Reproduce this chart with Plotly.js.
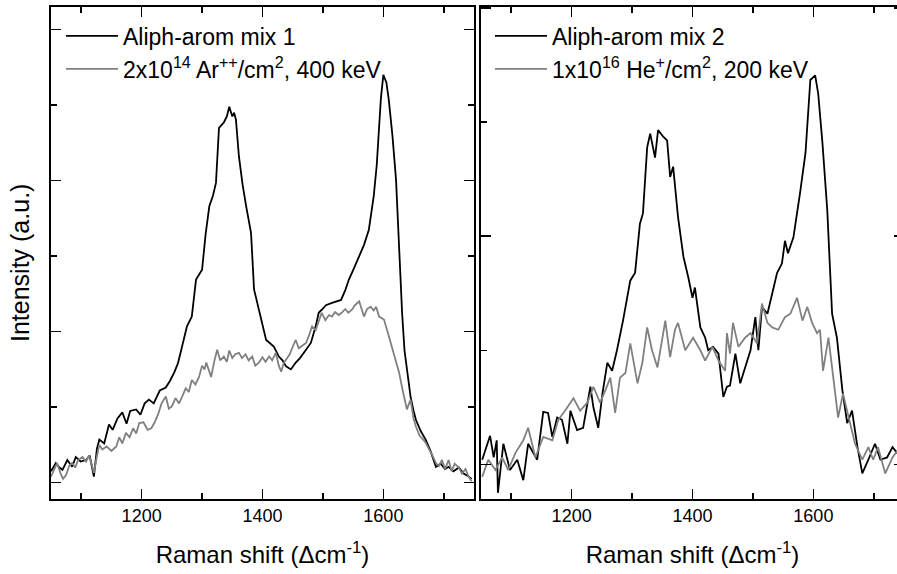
<!DOCTYPE html>
<html><head><meta charset="utf-8">
<script src="https://cdn.plot.ly/plotly-3.0.1.min.js"></script>
<style>html,body{margin:0;padding:0;overflow:hidden;background:#fff;width:897px;height:574px}</style>
</head><body><div id="chart" style="width:910px;height:574px"></div>
<script>
// Left panel: Aliph-arom mix 1 and Ar++ irradiated
const mix1X = [1050,1058,1064,1069,1077,1085,1091,1099,1108,1114,1121,1126,1130,1138,1146,1152,1160,1168,1175,1181,1191,1198,1205,1212,1220,1230,1240,1247,1254,1260,1265,1270,1275,1283,1290,1300,1306,1312,1318,1323,1328,1336,1341,1345,1350,1353,1356,1361,1367,1373,1381,1386,1392,1398,1406,1412,1419,1427,1433,1439,1447,1455,1462,1472,1480,1488,1493,1498,1505,1515,1522,1530,1537,1543,1552,1560,1568,1576,1584,1589,1593,1596,1600,1605,1609,1615,1621,1626,1631,1635,1639,1645,1650,1654,1662,1670,1678,1687,1695,1702,1708,1716,1725,1733,1741,1746];
const mix1Y = [0.15,0.26,0.20,0.17,0.30,0.21,0.34,0.28,0.30,0.36,0.08,0.45,0.57,0.52,0.77,0.70,0.85,0.93,0.78,0.95,0.97,0.90,1.05,1.10,1.05,1.22,1.26,1.35,1.46,1.58,1.74,1.90,2.07,2.20,2.69,2.82,3.30,3.66,3.80,3.97,4.70,4.77,4.85,4.98,4.85,4.90,4.81,4.32,3.95,3.66,3.31,2.56,2.35,2.16,1.89,1.85,1.80,1.67,1.62,1.54,1.50,1.59,1.65,1.76,1.85,2.07,2.25,2.29,2.35,2.38,2.40,2.42,2.55,2.69,2.85,2.99,3.15,3.35,3.79,4.20,4.68,5.10,5.40,5.30,5.07,4.60,4.01,3.10,2.25,1.75,1.50,1.14,0.95,0.83,0.68,0.57,0.42,0.21,0.25,0.18,0.21,0.15,0.20,0.12,0.08,0.05];
const arX = [1050,1055,1060,1066,1070,1075,1080,1085,1090,1095,1102,1108,1113,1117,1121,1126,1130,1135,1142,1150,1158,1163,1168,1174,1180,1186,1191,1196,1203,1210,1216,1221,1227,1233,1240,1245,1250,1256,1262,1267,1273,1278,1283,1289,1295,1300,1304,1307,1312,1315,1320,1325,1330,1336,1341,1345,1350,1355,1361,1366,1372,1377,1383,1388,1394,1400,1405,1411,1416,1422,1427,1431,1435,1439,1445,1450,1455,1460,1466,1472,1477,1482,1488,1493,1498,1504,1510,1515,1520,1526,1531,1537,1542,1548,1553,1560,1564,1568,1573,1579,1584,1588,1593,1597,1601,1607,1614,1620,1626,1632,1639,1645,1650,1654,1660,1665,1670,1675,1680,1687,1692,1697,1702,1708,1713,1718,1725,1730,1736,1741,1746];
const arY = [0.08,0.18,0.26,0.12,0.05,0.10,0.22,0.26,0.20,0.30,0.34,0.28,0.36,0.25,0.13,0.35,0.50,0.44,0.48,0.42,0.48,0.60,0.52,0.66,0.60,0.72,0.65,0.79,0.80,0.70,0.72,0.79,0.90,1.05,1.14,0.98,1.01,1.12,1.05,1.14,1.25,1.20,1.36,1.30,1.40,1.55,1.50,1.59,1.45,1.40,1.60,1.76,1.62,1.67,1.60,1.75,1.65,1.70,1.72,1.65,1.70,1.62,1.67,1.55,1.59,1.66,1.60,1.67,1.62,1.72,1.55,1.47,1.58,1.63,1.70,1.80,1.89,1.78,1.82,1.85,1.95,2.07,2.02,2.15,2.25,2.15,2.22,2.20,2.26,2.22,2.25,2.30,2.25,2.29,2.35,2.40,2.30,2.20,2.30,2.33,2.28,2.33,2.20,2.18,2.16,2.00,1.80,1.62,1.46,1.22,0.97,1.10,0.85,0.74,0.62,0.58,0.53,0.45,0.38,0.26,0.22,0.30,0.18,0.30,0.15,0.25,0.20,0.12,0.18,0.08,0.02];
// Right panel: Aliph-arom mix 2 and He+ irradiated
const mix2X = [1052,1057,1065,1071,1076,1078,1087,1098,1110,1120,1128,1143,1153,1161,1168,1176,1184,1193,1198,1209,1219,1231,1236,1244,1251,1259,1267,1275,1285,1297,1305,1313,1318,1325,1330,1338,1343,1352,1358,1363,1368,1376,1385,1393,1400,1404,1413,1421,1426,1434,1443,1451,1457,1462,1471,1479,1487,1496,1504,1509,1515,1524,1532,1540,1548,1553,1558,1567,1578,1587,1595,1603,1608,1615,1623,1631,1639,1648,1656,1664,1673,1681,1691,1702,1711,1722,1731,1739,1746];
const mix2Y = [0.04,0.12,0.25,0.06,0.21,-0.25,0.18,-0.05,0.04,-0.14,0.18,0.04,0.46,0.45,0.24,0.41,0.39,0.18,0.47,0.30,0.32,0.68,0.50,0.32,0.62,0.89,0.82,1.00,1.26,1.61,1.68,2.11,2.20,2.78,2.90,2.69,2.93,2.87,2.84,2.52,2.61,2.17,1.82,1.64,1.46,1.55,1.20,1.11,1.00,1.03,0.97,0.59,0.68,0.69,0.97,0.71,0.85,1.00,1.29,1.00,1.38,1.32,1.50,1.68,1.76,1.96,1.85,1.99,2.38,2.73,3.37,3.41,3.25,2.82,2.23,1.32,1.11,0.65,0.36,0.47,0.15,-0.08,0.04,0.18,0.04,0.06,0.15,0.10,0.05];
const heX = [1052,1062,1074,1085,1095,1107,1120,1128,1140,1153,1168,1178,1189,1203,1214,1226,1236,1247,1256,1264,1272,1280,1289,1297,1309,1317,1325,1333,1342,1350,1355,1363,1371,1376,1388,1401,1413,1421,1433,1443,1454,1457,1462,1467,1476,1487,1496,1507,1515,1524,1532,1542,1553,1562,1573,1582,1590,1598,1606,1611,1616,1625,1633,1641,1649,1658,1669,1681,1691,1699,1707,1719,1731,1739,1746];
const heY = [-0.11,0.04,-0.05,0.06,-0.05,0.10,0.21,0.32,0.06,0.24,0.21,0.39,0.47,0.58,0.47,0.54,0.68,0.54,0.65,0.76,0.45,0.76,0.80,1.06,0.71,0.89,1.20,1.00,0.85,1.09,1.26,0.94,1.18,1.24,1.00,1.11,1.00,0.91,1.03,0.91,0.82,1.15,0.97,1.24,1.03,1.11,1.15,1.06,1.41,1.24,1.20,1.18,1.29,1.32,1.46,1.26,1.38,1.24,1.15,1.18,0.82,1.11,0.74,0.41,0.62,0.41,0.18,0.04,0.15,0.04,0.15,-0.08,0.06,0.12,0.08];

const names = ['Aliph-arom mix 1', '2x10<sup>14</sup> Ar<sup>++</sup>/cm<sup>2</sup>, 400 keV',
               'Aliph-arom mix 2', '1x10<sup>16</sup> He<sup>+</sup>/cm<sup>2</sup>, 200 keV'];
const xTitle = 'Raman shift (\u0394cm<sup>-1</sup>)';
const yTitle = 'Intensity (a.u.)';

const W = 910, H = 574;
const yd = [(H-498.5)/H, (H-7)/H];
const FONT = 'Liberation Sans, Arial, sans-serif';

const traces = [
  {x: mix1X, y: mix1Y, name: names[0], type:'scatter', mode:'lines', line:{color:'#000', width:1.8}, xaxis:'x', yaxis:'y', legend:'legend'},
  {x: arX, y: arY, name: names[1], type:'scatter', mode:'lines', line:{color:'#808080', width:1.8}, xaxis:'x', yaxis:'y', legend:'legend'},
  {x: mix2X, y: mix2Y, name: names[2], type:'scatter', mode:'lines', line:{color:'#000', width:1.8}, xaxis:'x2', yaxis:'y2', legend:'legend2'},
  {x: heX, y: heY, name: names[3], type:'scatter', mode:'lines', line:{color:'#808080', width:1.8}, xaxis:'x2', yaxis:'y2', legend:'legend2'}
];

const axBase = {showline:true, linecolor:'#000', linewidth:2, mirror:'allticks', ticks:'inside', tickcolor:'#000', tickwidth:1.5, showgrid:false, zeroline:false};
function xax(dom, anchor){
  return Object.assign({}, axBase, {domain: dom, anchor: anchor, range:[1050,1750], tick0:0, dtick:200, ticklen:10,
    minor:{dtick:100, ticklen:6, ticks:'inside', tickcolor:'#000', tickwidth:1.5, showgrid:false},
    tickfont:{size:18, family:FONT, color:'#000'},
    title:{text: xTitle, font:{size:24, family:FONT, color:'#000'}, standoff:21}});
}
function yax(rng, anchor){
  return Object.assign({}, axBase, {domain: yd, anchor: anchor, range: rng, tick0:0, dtick:2, ticklen:10,
    minor:{dtick:1, ticklen:6, ticks:'inside', tickcolor:'#000', tickwidth:1.5, showgrid:false},
    showticklabels:false, title:{text:''}});
}

const layout = {
  width: W, height: H,
  margin:{l:0, r:0, t:0, b:0},
  paper_bgcolor:'#fff', plot_bgcolor:'#fff',
  font:{family:FONT, color:'#000'},
  showlegend:true,
  xaxis: xax([51/W, 474/W], 'y'),
  yaxis: yax([-0.21, 6.30], 'x'),
  xaxis2: xax([481/W, 904/W], 'y2'),
  yaxis2: yax([-0.30, 4.01], 'x2'),
  annotations:[{text: yTitle, xref:'paper', yref:'paper', x:20/W, y:(H-263)/H, xanchor:'center', yanchor:'middle',
                textangle:-90, showarrow:false, font:{size:25, family:FONT, color:'#000'}}],
  legend:{x:61/W, y:(H-14.5)/H, xanchor:'left', yanchor:'top', bgcolor:'rgba(0,0,0,0)', borderwidth:0,
          font:{size:23, family:FONT, color:'#000'}, itemwidth:52, tracegroupgap:0},
  legend2:{x:490/W, y:(H-14.5)/H, xanchor:'left', yanchor:'top', bgcolor:'rgba(0,0,0,0)', borderwidth:0,
          font:{size:23, family:FONT, color:'#000'}, itemwidth:52, tracegroupgap:0}
};

Plotly.newPlot('chart', traces, layout, {staticPlot:true, displayModeBar:false});
</script>
</body></html>
